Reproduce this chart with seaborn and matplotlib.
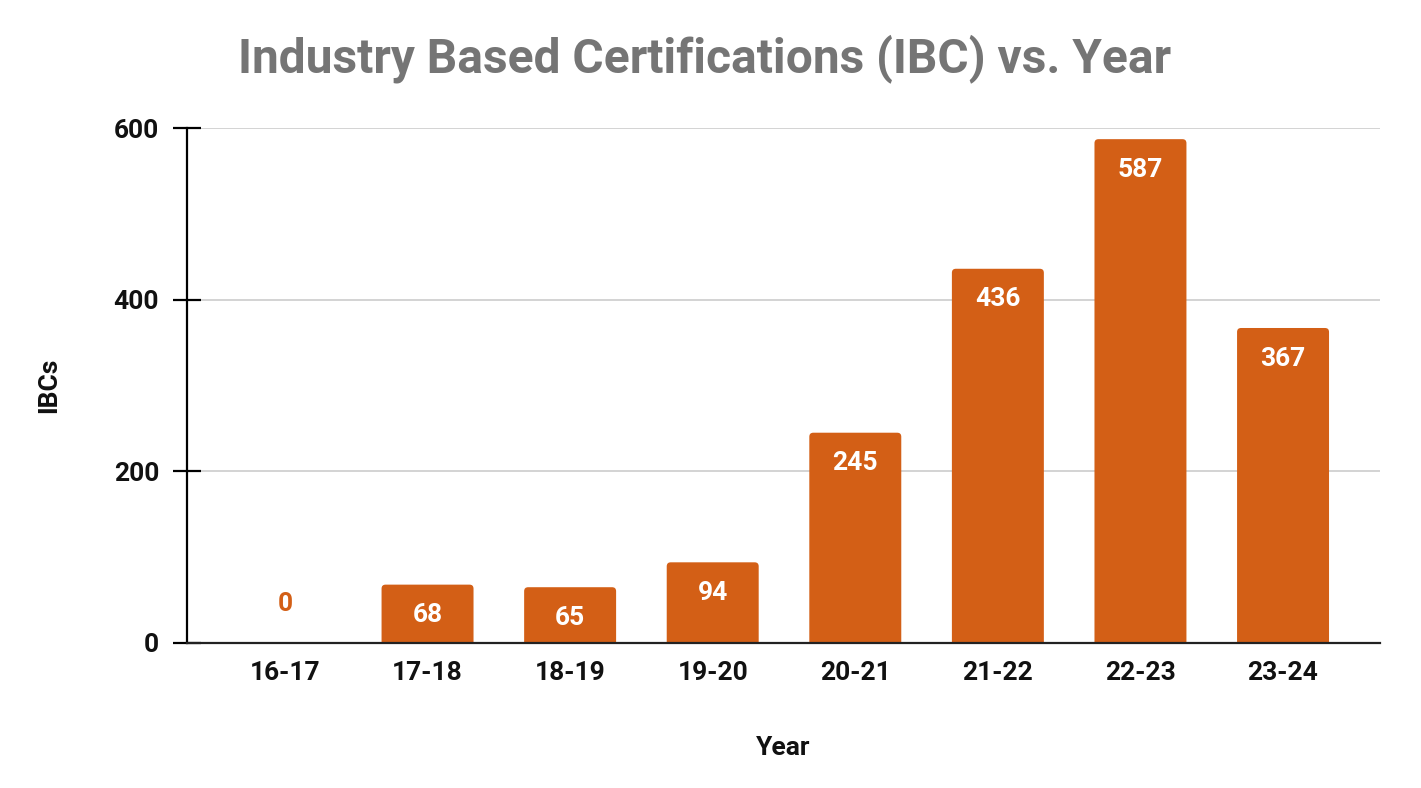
import matplotlib
matplotlib.use("Agg")
import matplotlib.pyplot as plt
from matplotlib.patches import FancyBboxPatch
import seaborn as sns
import pandas as pd

years = ["16-17", "17-18", "18-19", "19-20", "20-21", "21-22", "22-23", "23-24"]
ibcs = [0, 68, 65, 94, 245, 436, 587, 367]

bar_color = "#D35F16"

sns.set_theme(style="white")
plt.rcParams["font.family"] = ["Roboto", "DejaVu Sans"]

df = pd.DataFrame({"Year": years, "IBCs": ibcs})

fig = plt.figure(figsize=(14.21, 7.88), dpi=100)
ax = fig.add_axes([187 / 1421, 1 - 643 / 788, (1380 - 187) / 1421, (643 - 128) / 788])

sns.barplot(data=df, x="Year", y="IBCs", color=bar_color, saturation=1,
            width=0.645, ax=ax, zorder=3)

ax.set_ylim(0, 600)
ax.set_xlim(-0.687, 7.68)

# slightly rounded top corners, like the original
px_x = (1380 - 187) / (7.68 + 0.687)
px_y = (643 - 128) / 600
r_px = 4
for p in list(ax.patches):
    h = p.get_height()
    if h <= 0:
        continue
    x, w = p.get_x(), p.get_width()
    extra = r_px / px_y
    box = FancyBboxPatch((x, -extra), w, h + extra,
                         boxstyle=f"round,pad=0,rounding_size={r_px / px_x}",
                         mutation_aspect=px_x / px_y,
                         facecolor=bar_color, edgecolor="none", zorder=3)
    p.remove()
    ax.add_patch(box)

ax.set_yticks([0, 200, 400, 600])
ax.yaxis.grid(True, color="#CCCCCC", lw=1.2, zorder=0)
ax.xaxis.grid(False)

for side in ["top", "right"]:
    ax.spines[side].set_visible(False)
ax.spines["left"].set_color("black")
ax.spines["left"].set_linewidth(1.6)
ax.spines["bottom"].set_color("#222222")
ax.spines["bottom"].set_linewidth(1.6)
ax.spines["bottom"].set_zorder(4)

ax.tick_params(axis="y", left=True, direction="inout", length=20, width=1.6,
               color="black", labelsize=19, pad=10)
ax.tick_params(axis="x", bottom=False, length=0, labelsize=19, pad=13)
for lbl in ax.get_xticklabels() + ax.get_yticklabels():
    lbl.set_fontweight("bold")
    lbl.set_color("#111111")

ax.set_xlabel("Year", fontsize=19, fontweight="bold", color="#111111", labelpad=37)
ax.set_ylabel("IBCs", fontsize=19, fontweight="bold", color="#111111", labelpad=38)

for i, v in enumerate(ibcs):
    if v > 0:
        ax.annotate(str(v), (i, v), xytext=(0, -22), textcoords="offset points",
                    ha="center", va="center", fontsize=19, fontweight="bold",
                    color="white", zorder=5)
    else:
        ax.annotate(str(v), (i, v), xytext=(0, 28), textcoords="offset points",
                    ha="center", va="center", fontsize=19, fontweight="bold",
                    color=bar_color, zorder=5)

fig.text(705 / 1421, 1 - 59 / 788, "Industry Based Certifications (IBC) vs. Year",
         ha="center", va="center", fontsize=34.5, fontweight="bold", color="#757575")

fig.savefig("out.png", dpi=100, facecolor="white")
